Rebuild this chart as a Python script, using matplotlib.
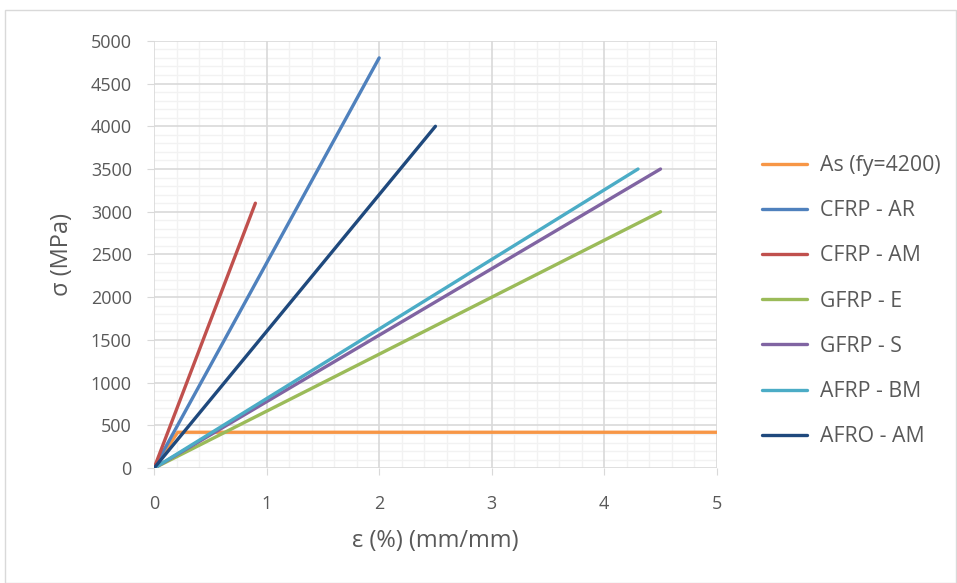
import matplotlib
matplotlib.use("Agg")
import matplotlib.pyplot as plt
from matplotlib.ticker import MultipleLocator
from matplotlib.patches import Rectangle

# series data: strain (%) and stress (MPa)
labels = ["As (fy=4200)", "CFRP - AR", "CFRP - AM", "GFRP - E", "GFRP - S", "AFRP - BM", "AFRO - AM"]
colors = ["#F79646", "#4F81BD", "#C0504D", "#9BBB59", "#8064A2", "#4BACC6", "#1F497D"]
steel_eps = [0, 0.21, 5]
steel_sig = [0, 420, 420]
frp_eps_max = [2.0, 0.9, 4.5, 4.5, 4.3, 2.5]
frp_sig_max = [4800, 3100, 3000, 3500, 3500, 4000]

plt.rcParams['font.family'] = ['Open Sans', 'DejaVu Sans']
txt = "#595959"

fig = plt.figure(figsize=(9.57, 5.83), dpi=100)
fig.patches.append(Rectangle((0.005, 0.0), 0.994, 0.982, transform=fig.transFigure,
                             fill=False, edgecolor="#D9D9D9", lw=1))
ax = fig.add_axes([0.161, 0.197, 0.588, 0.733])

ax.plot(steel_eps, steel_sig, color=colors[0], lw=2.4, label=labels[0], solid_capstyle='round')
for lab, c, e, s in zip(labels[1:], colors[1:], frp_eps_max, frp_sig_max):
    ax.plot([0, e], [0, s], color=c, lw=2.4, label=lab, solid_capstyle='round')

ax.set_xlim(0, 5)
ax.set_ylim(0, 5000)
ax.xaxis.set_major_locator(MultipleLocator(1))
ax.xaxis.set_minor_locator(MultipleLocator(0.2))
ax.yaxis.set_major_locator(MultipleLocator(500))
ax.yaxis.set_minor_locator(MultipleLocator(100))
ax.grid(which='minor', color="#F2F2F2", lw=1.0)
ax.set_axisbelow(True)
# major grid drawn over the minor one so it stays continuous
for v in ax.get_xticks():
    ax.axvline(v, color="#D9D9D9", lw=1.2, zorder=0.8)
for v in ax.get_yticks():
    ax.axhline(v, color="#D9D9D9", lw=1.2, zorder=0.8)
ax.set_xlim(0, 5)
ax.set_ylim(0, 5000)
for sp in ax.spines.values():
    sp.set_visible(False)
ax.tick_params(which='both', length=0, colors=txt, labelsize=13)
ax.tick_params(which='major', length=5, color="#D9D9D9", direction='out')
ax.tick_params(axis='x', pad=14)
ax.tick_params(axis='y', pad=11)

ax.set_xlabel("ε (%) (mm/mm)", color=txt, fontsize=17, labelpad=12)
ax.set_ylabel("σ (MPa)", color=txt, fontsize=17, labelpad=12)

leg = fig.legend(loc='upper left', bbox_to_anchor=(0.776, 0.767), frameon=False,
                 fontsize=15.3, labelcolor=txt, handlelength=2.15, handletextpad=0.6,
                 labelspacing=1.14)

fig.savefig("out.png", dpi=100)
